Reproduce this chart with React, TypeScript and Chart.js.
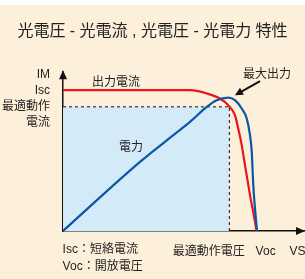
import React, { useEffect, useRef } from "react";
import { Chart, registerables } from "chart.js";

Chart.register(...registerables);

// ---- data (voltage in units where Voc = 10, current in units where Isc = 10) ----
const VMP = 8.62;
const IMP = 8.82;

const currentV = [0, 6.58, 7.45, 8.13, 8.56, 8.91, 9.08, 9.26, 9.43, 9.69, 9.95, 10.03];
const currentI = [10, 10, 9.77, 9.41, 8.94, 8.23, 7.28, 6.1, 4.68, 2.55, 0.66, 0];

const powerV = [0, 3.99, 5.72, 6.58, 7.45, 7.96, 8.56, 8.91, 9.26, 9.52, 9.69, 9.78, 9.86, 10.05];
const powerP = [0, 4.91, 6.81, 7.75, 8.82, 9.29, 9.48, 9.29, 8.7, 7.99, 6.81, 5.62, 3.26, 0];

const xTickValues = [7.55, 10.5, 12.15];
const xTickLabels = ["最適動作電圧", "Voc", "VS"];
const yTickValues = [8.26, 10.0, 11.13];
const yTickLabels: (string | string[])[] = [["最適動作", "電流"], "Isc", "IM"];

const titleText = "光電圧 - 光電流 , 光電圧 - 光電力 特性";
const notes = [
  { text: "出力電流", x: 2.75, y: 10.5 },
  { text: "電力", x: 3.52, y: 5.89 },
  { text: "最大出力", x: 10.57, y: 11.13 },
];
const legendLines = [
  { text: "Isc：短絡電流", x: -0.02, y: -1.35 },
  { text: "Voc：開放電圧", x: -0.02, y: -2.55 },
];
const maxArrow = { from: [10.21, 10.64], to: [8.91, 9.65] };

const FONT = "'Liberation Sans', 'Noto Sans CJK JP', sans-serif";
const TEXT = "#222";
const RED = "#e8141e";
const BLUE = "#0b57a6";
const SHADE = "#d3eaf8";
const BG = "#fdf0da";

const pts = (xs: number[], ys: number[]) => xs.map((x, i) => ({ x, y: ys[i] }));

const tri = (ctx: CanvasRenderingContext2D, p: number[][]) => {
  ctx.beginPath();
  ctx.moveTo(p[0][0], p[0][1]);
  ctx.lineTo(p[1][0], p[1][1]);
  ctx.lineTo(p[2][0], p[2][1]);
  ctx.closePath();
  ctx.fill();
};

const decor = {
  id: "decor",
  afterDraw(chart: any) {
    const { ctx, chartArea, scales } = chart;
    const xs = scales.x;
    const ys = scales.y;
    ctx.save();
    ctx.fillStyle = "#111";
    const ax = chartArea.left;
    const at = chartArea.top;
    const bx = chartArea.right;
    const by = chartArea.bottom;
    tri(ctx, [[ax, at - 2], [ax - 4, at + 7], [ax + 4, at + 7]]);
    tri(ctx, [[bx, by], [bx - 9, by - 4], [bx - 9, by + 4]]);

    ctx.font = `12px ${FONT}`;
    ctx.fillStyle = TEXT;
    ctx.textBaseline = "middle";
    ctx.textAlign = "center";
    for (const n of notes) {
      ctx.fillText(n.text, xs.getPixelForValue(n.x), ys.getPixelForValue(n.y));
    }
    ctx.textAlign = "left";
    for (const l of legendLines) {
      ctx.fillText(l.text, xs.getPixelForValue(l.x), ys.getPixelForValue(l.y));
    }

    const x1 = xs.getPixelForValue(maxArrow.from[0]);
    const y1 = ys.getPixelForValue(maxArrow.from[1]);
    const x2 = xs.getPixelForValue(maxArrow.to[0]);
    const y2 = ys.getPixelForValue(maxArrow.to[1]);
    const ang = Math.atan2(y2 - y1, x2 - x1);
    const hl = 8;
    const c = Math.cos(ang);
    const s = Math.sin(ang);
    ctx.strokeStyle = "#111";
    ctx.fillStyle = "#111";
    ctx.lineWidth = 2;
    ctx.beginPath();
    ctx.moveTo(x1, y1);
    ctx.lineTo(x2 - c * hl * 0.8, y2 - s * hl * 0.8);
    ctx.stroke();
    tri(ctx, [
      [x2, y2],
      [x2 - hl * c + 4 * s, y2 - hl * s - 4 * c],
      [x2 - hl * c - 4 * s, y2 - hl * s + 4 * c],
    ]);
    ctx.restore();
  },
};

export default function App() {
  const ref = useRef<HTMLCanvasElement | null>(null);
  useEffect(() => {
    if (!ref.current) return;
    const chart = new Chart(ref.current, {
      type: "line",
      data: {
        datasets: [
          {
            label: "電力",
            data: pts(powerV, powerP),
            borderColor: BLUE,
            borderWidth: 2.2,
            pointRadius: 0,
            cubicInterpolationMode: "monotone",
            fill: false,
          },
          {
            label: "出力電流",
            data: pts(currentV, currentI),
            borderColor: RED,
            borderWidth: 2.2,
            pointRadius: 0,
            cubicInterpolationMode: "monotone",
            fill: false,
          },
          {
            label: "vmp",
            data: [
              { x: VMP, y: 0 },
              { x: VMP, y: IMP },
            ],
            borderColor: "#111",
            borderWidth: 1,
            borderDash: [3, 3],
            pointRadius: 0,
            fill: false,
          },
          {
            label: "imp",
            data: [
              { x: 0, y: IMP },
              { x: VMP, y: IMP },
            ],
            borderColor: "#111",
            borderWidth: 1,
            borderDash: [3, 3],
            pointRadius: 0,
            backgroundColor: SHADE,
            fill: "origin",
          },
        ],
      },
      options: {
        responsive: false,
        animation: false,
        events: [],
        layout: { padding: { left: 0, right: 0, top: 0, bottom: 0 } },
        plugins: {
          legend: { display: false },
          tooltip: { enabled: false },
          title: {
            display: true,
            text: titleText,
            color: TEXT,
            font: { size: 16, weight: "normal", family: FONT, lineHeight: 1.2 },
            padding: { top: 22, bottom: 31 },
          },
        },
        scales: {
          x: {
            type: "linear",
            min: 0,
            max: 12.54,
            grid: { display: false },
            border: { display: true, color: "#111", width: 1.5 },
            afterBuildTicks: (s: any) => {
              s.ticks = xTickValues.map((v) => ({ value: v }));
            },
            afterFit: (s: any) => {
              s.height = 48;
              s.paddingLeft = 0;
              s.paddingRight = 0;
            },
            ticks: {
              autoSkip: false,
              maxRotation: 0,
              padding: 5,
              color: TEXT,
              font: { size: 12, family: FONT },
              callback: (_v: any, i: number) => xTickLabels[i],
            },
          },
          y: {
            type: "linear",
            min: 0,
            max: 11.28,
            grid: { display: false },
            border: { display: true, color: "#111", width: 1.5 },
            afterBuildTicks: (s: any) => {
              s.ticks = yTickValues.map((v) => ({ value: v }));
            },
            afterFit: (s: any) => {
              s.width = 63;
              s.paddingTop = 0;
              s.paddingBottom = 0;
            },
            ticks: {
              autoSkip: false,
              padding: 5,
              color: TEXT,
              font: { size: 12, family: FONT, lineHeight: 1.4 },
              callback: (_v: any, i: number) => yTickLabels[i] as any,
            },
          },
        },
      },
      plugins: [decor],
    } as any);
    return () => chart.destroy();
  }, []);

  return (
    <div
      style={{
        position: "fixed",
        left: 0,
        top: 0,
        width: 305,
        height: 279,
        background: `linear-gradient(#fff 0 5px, ${BG} 5px)`,
      }}
    >
      <canvas ref={ref} width={305} height={279} style={{ display: "block" }} />
    </div>
  );
}
